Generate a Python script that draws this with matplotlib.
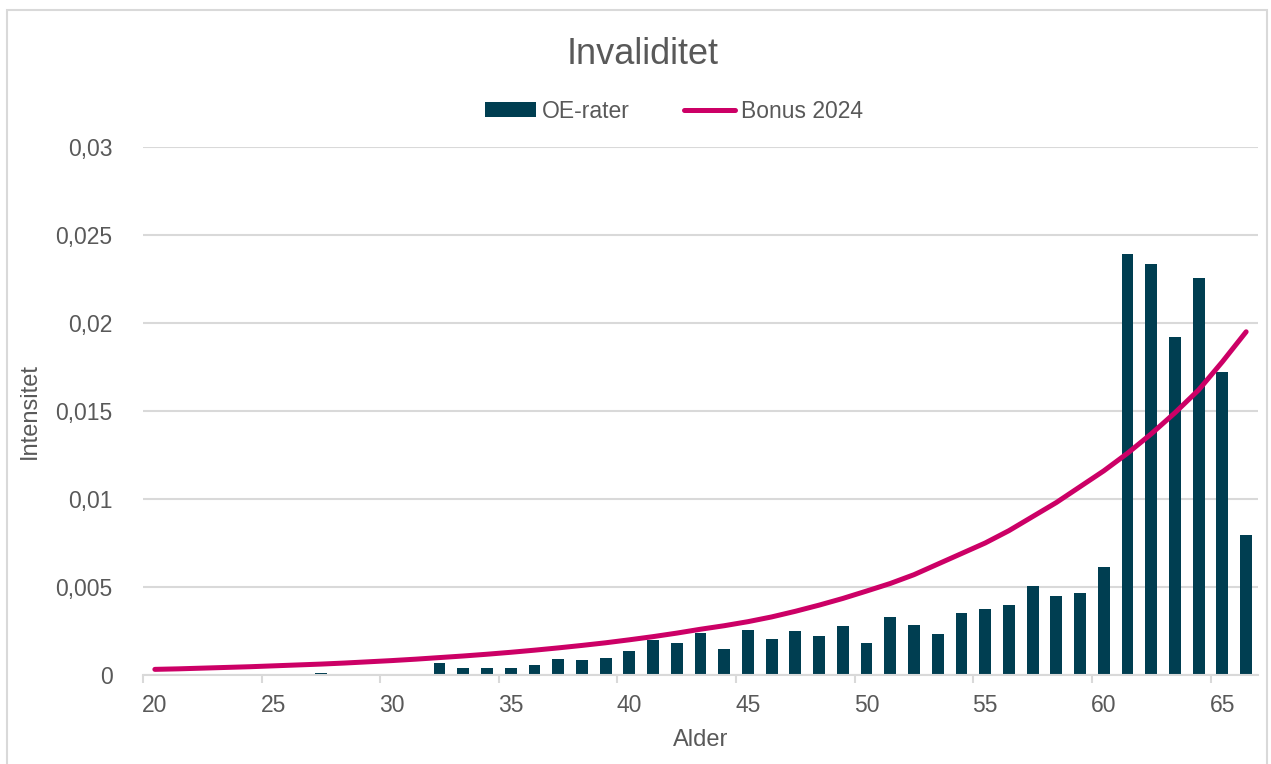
import matplotlib.pyplot as plt
import matplotlib.patches as mpatches
from matplotlib.ticker import FuncFormatter, FixedLocator
import numpy as np

plt.rcParams['font.family'] = ['Liberation Sans', 'DejaVu Sans']

# ---------- data ----------
ages = list(range(20, 67))
oe_rater = [0, 0, 0, 0, 0, 0, 0,
            0.0001, 0.00008, 0.00008, 0.00008, 0.00008,
            0.00066, 0.00038, 0.00038, 0.0004, 0.00057,
            0.00089, 0.00087, 0.00095, 0.00138, 0.0020,
            0.0018, 0.0024, 0.00146, 0.00254, 0.00203,
            0.0025, 0.00222, 0.00277, 0.0018, 0.00328,
            0.00283, 0.00231, 0.00354, 0.00375, 0.00398,
            0.00506, 0.0045, 0.00468, 0.00614, 0.0239,
            0.02337, 0.01922, 0.02256, 0.01722, 0.00795]
bonus_2024 = [0.00032, 0.00035, 0.00039, 0.00043, 0.00047,
              0.00052, 0.00057, 0.00062, 0.00068, 0.00075,
              0.00082, 0.0009, 0.00099, 0.00108, 0.00118,
              0.00129, 0.00141, 0.00154, 0.00168, 0.00183,
              0.002, 0.00218, 0.00238, 0.0026, 0.0028,
              0.00303, 0.0033, 0.00362, 0.00397, 0.00435,
              0.00477, 0.0052, 0.0057, 0.0063, 0.0069,
              0.0075, 0.0082, 0.009, 0.0098, 0.0107,
              0.0116, 0.0126, 0.0137, 0.0149, 0.0162,
              0.0178, 0.0195]
y_ticks = [0, 0.005, 0.01, 0.015, 0.02, 0.025, 0.03]
x_labels = [20, 25, 30, 35, 40, 45, 50, 55, 60, 65]

W, H = 1271, 764
txt = '#595959'
grid = '#D9D9D9'

fig = plt.figure(figsize=(W / 100, H / 100), dpi=100)
ax = fig.add_axes([143 / W, 1 - 675 / H, (1258 - 143) / W, (675 - 147) / H])

# chart border
fig.patches.append(mpatches.Rectangle((7 / W, -0.05), (1267 - 7) / W, 1.05 - 10 / H,
                                      transform=fig.transFigure, fill=False,
                                      edgecolor=grid, lw=1.5))

bars = ax.bar(ages, oe_rater, width=0.5, color='#003E51', label='OE-rater', zorder=2)
line, = ax.plot(ages, bonus_2024, color='#CC0066', lw=3.6, solid_capstyle='round',
                solid_joinstyle='round', label='Bonus 2024', zorder=3)

ax.set_xlim(19.5, 66.5)
ax.set_ylim(0, 0.03)

ax.set_yticks(y_ticks)
ax.yaxis.set_major_formatter(FuncFormatter(lambda v, p: ('%g' % v).replace('.', ',')))
ax.yaxis.grid(True, color=grid, lw=1.5)
ax.set_axisbelow(True)

ax.xaxis.set_major_locator(FixedLocator(x_labels))
ax.xaxis.set_minor_locator(FixedLocator([19.5 + 5 * k for k in range(10)]))
ax.tick_params(axis='x', which='major', length=0, pad=14, labelsize=16.5, labelcolor=txt)
ax.tick_params(axis='x', which='minor', length=6, width=1.5, color=grid, direction='out')
ax.tick_params(axis='y', length=0, pad=22, labelsize=16.5, labelcolor=txt)

for s in ['top', 'right', 'left']:
    ax.spines[s].set_visible(False)
ax.spines['bottom'].set_color(grid)
ax.spines['bottom'].set_linewidth(1.5)

ax.set_xlabel('Alder', fontsize=17, color=txt, labelpad=8)
ax.set_ylabel('Intensitet', fontsize=17, color=txt, labelpad=10)

fig.text(643 / W, 1 - 55 / H, 'Invaliditet', fontsize=26, color=txt, ha='center', va='center')

fig.legend(handles=[bars, line], labels=['OE-rater', 'Bonus 2024'],
           loc='center', bbox_to_anchor=(674 / W, 1 - 111 / H), ncol=2, frameon=False,
           fontsize=16.5, labelcolor=txt, handlelength=2.2, handleheight=0.6,
           handletextpad=0.25, columnspacing=2.4)

fig.savefig('out.png', dpi=100)
